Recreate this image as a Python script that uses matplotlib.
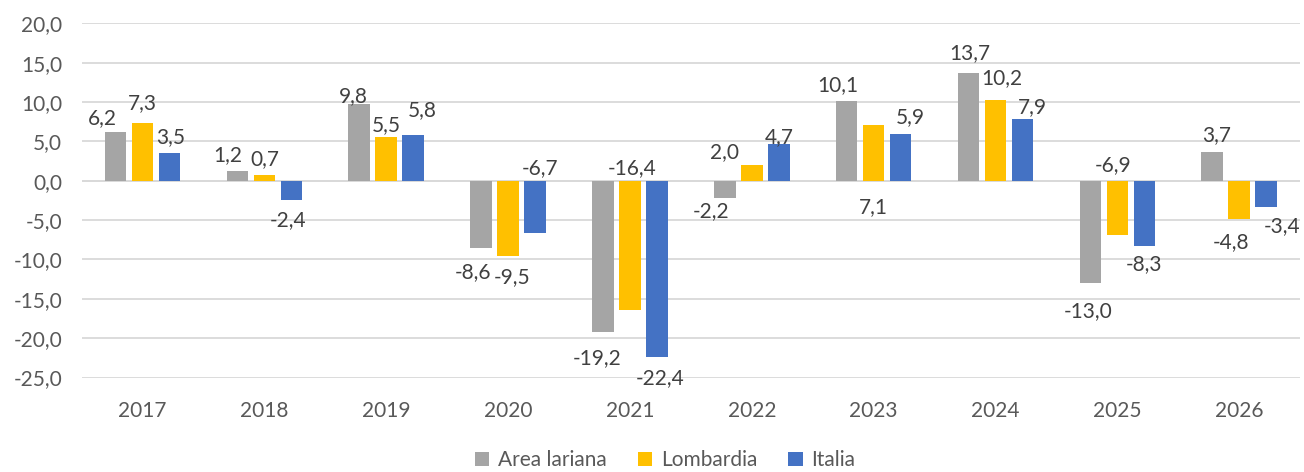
import numpy as np
import matplotlib
matplotlib.use("Agg")
import matplotlib.pyplot as plt

# --- dati ---
anni = ["2017", "2018", "2019", "2020", "2021", "2022", "2023", "2024", "2025", "2026"]
area_lariana = [6.2, 1.2, 9.8, -8.6, -19.2, -2.2, 10.1, 13.7, -13.0, 3.7]
lombardia = [7.3, 0.7, 5.5, -9.5, -16.4, 2.0, 7.1, 10.2, -6.9, -4.8]
italia = [3.5, -2.4, 5.8, -6.7, -22.4, 4.7, 5.9, 7.9, -8.3, -3.4]
serie_nomi = ["Area lariana", "Lombardia", "Italia"]
y_ticks = [20, 15, 10, 5, 0, -5, -10, -15, -20, -25]

# --- posizione etichette (come spostate a mano nel grafico originale) ---
# spostamento x (unità categoria) e quota y (unità dati) del centro etichetta
lab_dx = [
    [-0.107, -0.082, -0.05, -0.066, -0.05, -0.115, -0.074, 0.008, -0.016, 0.033],
    [0.0, 0.008, 0.0, 0.033, 0.016, -0.222, 0.0, 0.05, -0.037, -0.066],
    [0.008, -0.025, 0.074, 0.041, 0.025, 0.0, 0.082, 0.082, 0.0, 0.131],
]
lab_y = [
    [8.0, 3.3, 10.7, -11.6, -22.5, -3.8, 12.2, 16.2, -16.5, 5.85],
    [9.9, 2.7, 7.1, -12.3, 1.65, 3.7, -3.3, 13.0, 2.0, -7.8],
    [5.6, -5.0, 9.0, 1.65, -25.1, 5.6, 8.1, 9.4, -10.6, -5.7],
]

# --- stile ---
COLORI = ["#A5A5A5", "#FFC000", "#4472C4"]
GRIGIO_TESTO = "#595959"
GRIGIO_LAB = "#404040"
FS = 15
plt.rcParams['font.family'] = ['Lato', 'DejaVu Sans']

fig = plt.figure(figsize=(13.04, 4.72), dpi=100)
ax = fig.add_axes([0.0626, 0.2002, 0.9344, 0.7504])

x = np.arange(len(anni))
passo = 0.2217
larg = 0.177
valori = [area_lariana, lombardia, italia]

for k, (serie, nome, col) in enumerate(zip(valori, serie_nomi, COLORI)):
    pos = x + (k - 1) * passo
    ax.bar(pos, serie, width=larg, color=col, label=nome, zorder=3)
    for i, v in enumerate(serie):
        testo = f"{v:.1f}".replace(".", ",")
        ax.text(pos[i] + lab_dx[k][i], lab_y[k][i], testo, ha="center", va="center",
                fontsize=FS, color=GRIGIO_LAB, zorder=4)

ax.set_xlim(-0.5, len(anni) - 0.5)
ax.set_ylim(-25, 20)
ax.set_yticks(y_ticks)
ax.set_yticklabels([f"{t:.1f}".replace(".", ",") for t in y_ticks])
ax.set_xticks(x)
ax.set_xticklabels(anni)
ax.grid(axis="y", color="#D9D9D9", linewidth=1.3, zorder=0)
ax.axhline(0, color="#D9D9D9", linewidth=1.3, zorder=2)
for s in ax.spines.values():
    s.set_visible(False)
ax.tick_params(axis="both", length=0, labelsize=FS, colors=GRIGIO_TESTO)
ax.tick_params(axis="x", pad=17)
ax.tick_params(axis="y", pad=14)

leg = fig.legend(loc="center", bbox_to_anchor=(0.51, 0.025), ncol=3, frameon=False,
                 fontsize=FS, handlelength=0.7, handleheight=0.7, handletextpad=0.4,
                 columnspacing=1.5)
for t in leg.get_texts():
    t.set_color(GRIGIO_TESTO)

fig.savefig("out.png", dpi=100)
